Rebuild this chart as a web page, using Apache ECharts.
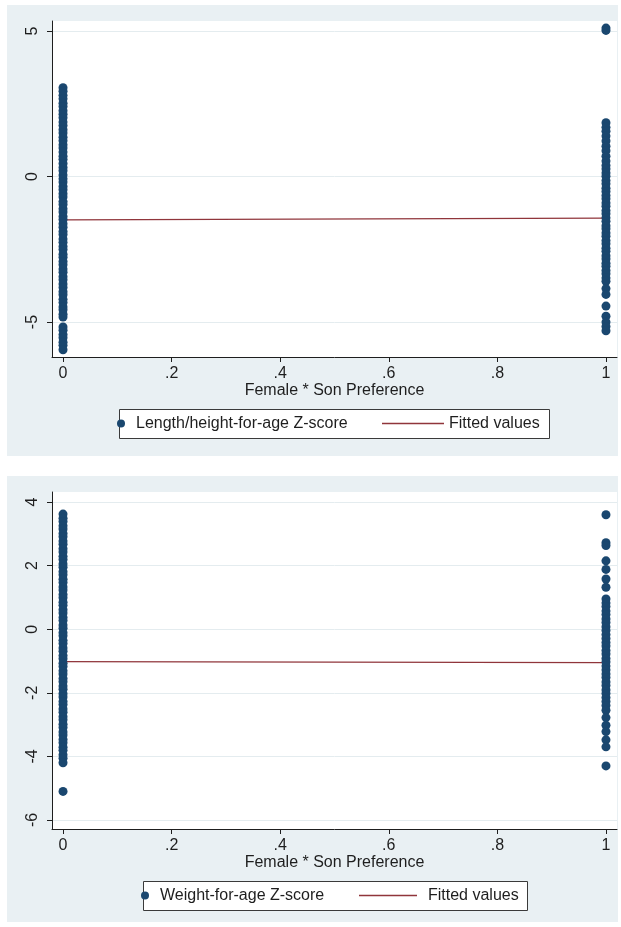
<!DOCTYPE html>
<html>
<head>
<meta charset="utf-8">
<script src="https://cdn.jsdelivr.net/npm/echarts@6/dist/echarts.min.js"></script>
<style>
  html, body { margin: 0; padding: 0; background: #ffffff; }
  #chart { width: 621px; height: 927px; }
</style>
</head>
<body>
<div id="chart"></div>
<script>
// Group indicator (Female * Son Preference) on the x axis
const groupValues = [0, 1];

// X tick labels
const xTicks = [0, 0.2, 0.4, 0.6, 0.8, 1];
const xTickLabels = ['0', '.2', '.4', '.6', '.8', '1'];

// Y ticks for each panel
const heightTicks = [-5, 0, 5];
const weightTicks = [-6, -4, -2, 0, 2, 4];

// Length/height-for-age Z-scores, group 0
const heightGroup0 = [
  3.05, 2.93, 2.79, 2.67, 2.52, 2.41, 2.26, 2.14, 2.02, 1.87, 1.75, 1.61, 1.50,
  1.35, 1.23, 1.09, 0.98, 0.84, 0.70, 0.59, 0.45, 0.31, 0.20, 0.05, -0.08,
  -0.19, -0.34, -0.45, -0.59, -0.70, -0.86, -0.96, -1.11, -1.22, -1.37, -1.48,
  -1.62, -1.74, -1.89, -1.99, -2.15, -2.26, -2.40, -2.51, -2.67, -2.77, -2.92,
  -3.03, -3.18, -3.29, -3.44, -3.55, -3.69, -3.81, -3.96, -4.06, -4.22, -4.33,
  -4.48, -4.58, -4.73, -4.83, -5.17, -5.28, -5.43, -5.54, -5.69, -5.80, -5.95
];
// Length/height-for-age Z-scores, group 1
const heightGroup1 = [
  5.10, 5.02, 1.85, 1.69, 1.56, 1.39, 1.22, 1.04, 0.89, 0.70, 0.53, 0.38, 0.26,
  0.12, 0.01, -0.14, -0.25, -0.40, -0.51, -0.65, -0.76, -0.91, -1.02, -1.17,
  -1.28, -1.42, -1.54, -1.69, -1.79, -1.94, -2.05, -2.20, -2.31, -2.46, -2.57,
  -2.72, -2.83, -2.98, -3.08, -3.23, -3.34, -3.49, -3.60, -3.85, -4.05, -4.45,
  -4.80, -5.00, -5.15, -5.30
];
// Fitted values (linear fit of height-for-age on the group indicator)
const heightFit = [-1.49, -1.43];

// Weight-for-age Z-scores, group 0
const weightGroup0 = [
  3.62, 3.49, 3.39, 3.25, 3.15, 3.01, 2.91, 2.77, 2.67, 2.53, 2.43, 2.29, 2.19,
  2.05, 1.95, 1.81, 1.71, 1.57, 1.47, 1.33, 1.23, 1.09, 0.99, 0.85, 0.75, 0.61,
  0.51, 0.37, 0.27, 0.13, 0.03, -0.11, -0.21, -0.35, -0.45, -0.59, -0.69, -0.83,
  -0.93, -1.07, -1.17, -1.31, -1.41, -1.55, -1.65, -1.79, -1.89, -2.03, -2.13,
  -2.27, -2.37, -2.51, -2.61, -2.75, -2.85, -2.99, -3.09, -3.23, -3.33, -3.47,
  -3.57, -3.71, -3.81, -3.95, -4.06, -4.20, -5.10
];
// Weight-for-age Z-scores, group 1
const weightGroup1 = [
  3.60, 2.72, 2.63, 2.15, 1.88, 1.58, 1.32, 0.95, 0.82, 0.71, 0.57, 0.46, 0.32,
  0.21, 0.08, -0.04, -0.17, -0.29, -0.42, -0.53, -0.67, -0.78, -0.92, -1.03,
  -1.16, -1.28, -1.41, -1.52, -1.66, -1.77, -1.91, -2.02, -2.15, -2.27, -2.40,
  -2.55, -2.78, -3.02, -3.22, -3.48, -3.70, -4.30
];
// Fitted values (linear fit of weight-for-age on the group indicator)
const weightFit = [-1.02, -1.05];

const NAVY = '#1a476f';
const MAROON = '#90353b';
const PANEL_BG = '#e9f0f3';
const GRID_LINE = '#e4ecef';
const INK = '#1e1e1e';
const FONT = 'Liberation Sans, Arial, sans-serif';

const pairs = (x, arr) => arr.map(v => [x, v]);

function xAxisFor(gridIndex) {
  return {
    gridIndex,
    type: 'value',
    min: -0.0203,
    max: 1.0203,
    name: 'Female * Son Preference',
    nameLocation: 'middle',
    nameGap: 25,
    nameTextStyle: { fontFamily: FONT, fontSize: 16, color: INK },
    axisLine: { show: true, onZero: false, lineStyle: { color: INK, width: 1 } },
    axisTick: { show: true, customValues: xTicks, length: 5, lineStyle: { color: INK } },
    axisLabel: {
      customValues: xTicks,
      margin: 9,
      fontFamily: FONT, fontSize: 16, color: INK,
      formatter: v => xTickLabels[xTicks.findIndex(t => Math.abs(t - v) < 1e-6)]
    },
    splitLine: { show: false }
  };
}

function yAxisFor(gridIndex, min, max, ticks) {
  return {
    gridIndex,
    type: 'value',
    min, max,
    axisLine: { show: true, onZero: false, lineStyle: { color: INK, width: 1 } },
    axisTick: { show: true, customValues: ticks, length: 5, lineStyle: { color: INK } },
    axisLabel: {
      customValues: ticks,
      rotate: 90,
      margin: 11,
      fontFamily: FONT, fontSize: 16, color: INK
    },
    splitLine: { show: true, lineStyle: { color: GRID_LINE, width: 1 } }
  };
}

const legendText = { fontFamily: FONT, fontSize: 16, color: INK, lineHeight: 18 };

const option = {
  animation: false,
  backgroundColor: '#ffffff',
  graphic: {
    elements: [
      { type: 'rect', z: -100, silent: true, shape: { x: 7, y: 5, width: 611, height: 451 }, style: { fill: PANEL_BG } },
      { type: 'rect', z: -100, silent: true, shape: { x: 7, y: 476, width: 611, height: 446 }, style: { fill: PANEL_BG } },
      { type: 'rect', z: 1, silent: true, shape: { x: 119.5, y: 409.5, width: 430, height: 29 }, style: { fill: '#ffffff', stroke: '#3a3a3a', lineWidth: 1 } },
      { type: 'rect', z: 1, silent: true, shape: { x: 143.5, y: 881.5, width: 384, height: 29 }, style: { fill: '#ffffff', stroke: '#3a3a3a', lineWidth: 1 } }
    ]
  },
  grid: [
    { left: 52, right: 4, top: 21, height: 336, show: true, backgroundColor: '#ffffff', borderWidth: 0 },
    { left: 52, right: 4, top: 492, height: 337, show: true, backgroundColor: '#ffffff', borderWidth: 0 }
  ],
  xAxis: [xAxisFor(0), xAxisFor(1)],
  yAxis: [
    yAxisFor(0, -6.2, 5.344, heightTicks),
    yAxisFor(1, -6.283, 4.314, weightTicks)
  ],
  legend: [
    { data: [{ name: 'Length/height-for-age Z-score', icon: 'circle' }], left: 117, top: 414.5, padding: 0,
      itemWidth: 20, itemHeight: 8, textStyle: legendText, selectedMode: false },
    { data: [{ name: 'Fitted values', icon: 'rect' }], left: 382, top: 414.5, padding: 0,
      itemWidth: 62, itemHeight: 1.4, textStyle: legendText, selectedMode: false },
    { data: [{ name: 'Weight-for-age Z-score', icon: 'circle' }], left: 141, top: 886.5, padding: 0,
      itemWidth: 20, itemHeight: 8, textStyle: legendText, selectedMode: false },
    { data: [{ name: 'Fitted values', icon: 'rect' }], left: 359, top: 886.5, padding: 0,
      itemWidth: 58, itemHeight: 1.4, textStyle: Object.assign({}, legendText, { padding: [0, 0, 0, 6] }), selectedMode: false }
  ],
  series: [
    {
      name: 'Fitted values', type: 'line', xAxisIndex: 0, yAxisIndex: 0, z: 2,
      data: groupValues.map((x, i) => [x, heightFit[i]]),
      showSymbol: false, symbol: 'none', color: MAROON,
      lineStyle: { color: MAROON, width: 1.2 }, itemStyle: { color: MAROON }
    },
    {
      name: 'Length/height-for-age Z-score', type: 'scatter', xAxisIndex: 0, yAxisIndex: 0, z: 3,
      data: pairs(groupValues[0], heightGroup0).concat(pairs(groupValues[1], heightGroup1)),
      symbol: 'circle', symbolSize: 9, itemStyle: { color: NAVY, opacity: 1 }
    },
    {
      name: 'Fitted values', type: 'line', xAxisIndex: 1, yAxisIndex: 1, z: 2,
      data: groupValues.map((x, i) => [x, weightFit[i]]),
      showSymbol: false, symbol: 'none', color: MAROON,
      lineStyle: { color: MAROON, width: 1.2 }, itemStyle: { color: MAROON }
    },
    {
      name: 'Weight-for-age Z-score', type: 'scatter', xAxisIndex: 1, yAxisIndex: 1, z: 3,
      data: pairs(groupValues[0], weightGroup0).concat(pairs(groupValues[1], weightGroup1)),
      symbol: 'circle', symbolSize: 9, itemStyle: { color: NAVY, opacity: 1 }
    }
  ]
};

const chart = echarts.init(document.getElementById('chart'), null, { renderer: 'canvas' });
chart.setOption(option);
</script>
</body>
</html>
